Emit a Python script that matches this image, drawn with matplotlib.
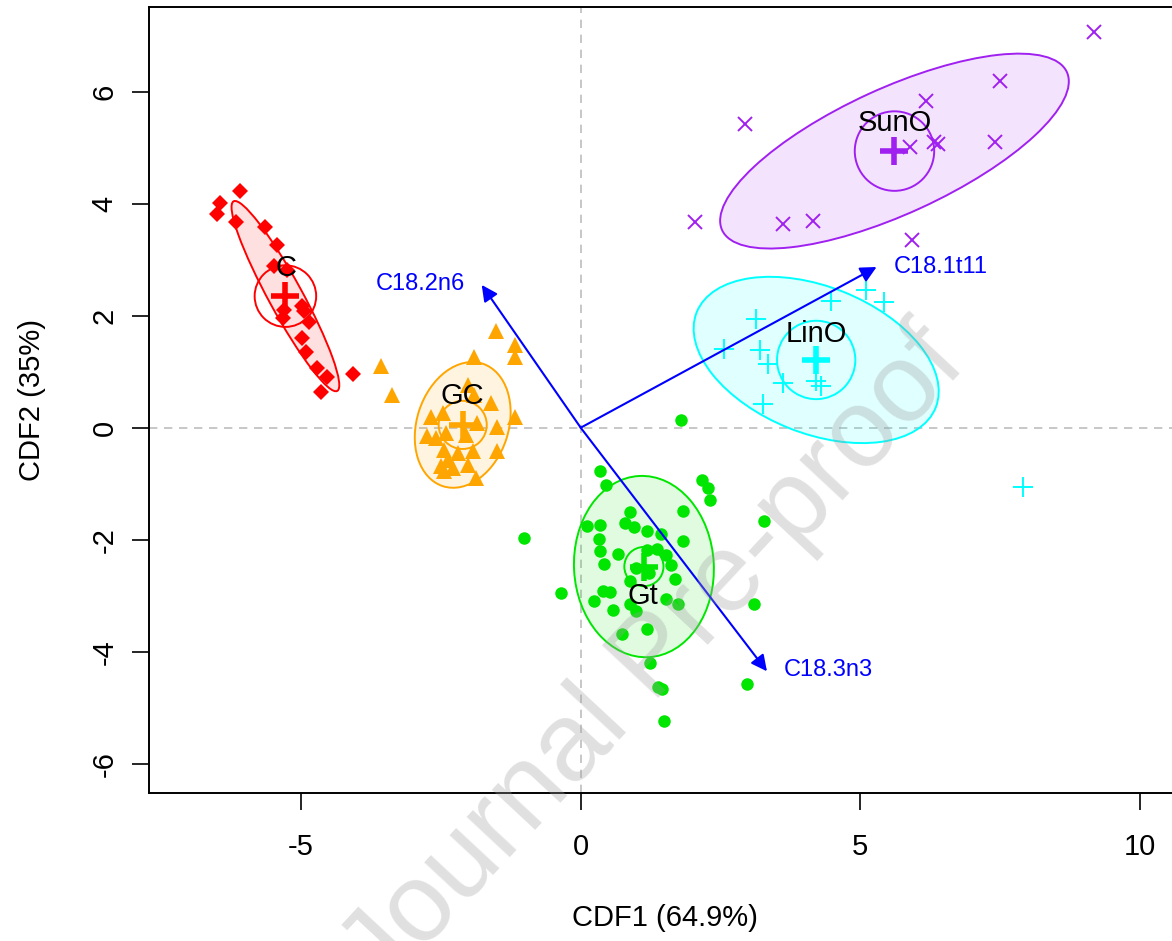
import matplotlib
matplotlib.use("Agg")
import matplotlib.pyplot as plt
from matplotlib.patches import Ellipse, Circle

plt.rcParams['font.family'] = ['Liberation Sans', 'DejaVu Sans']
plt.rcParams['axes.unicode_minus'] = False

# discriminant scores per group
c_x = [-6.10, -6.45, -6.50, -6.16, -5.64, -5.43, -5.49, -5.25, -5.30, -5.33,
       -4.99, -4.94, -4.86, -4.99, -4.91, -4.71, -4.54, -4.65, -4.08]
c_y = [4.22, 4.01, 3.82, 3.67, 3.58, 3.27, 2.88, 2.82, 2.11, 1.96,
       2.17, 2.08, 1.88, 1.60, 1.35, 1.07, 0.91, 0.63, 0.96]

gc_x = [-1.52, -3.57, -3.38, -1.90, -1.18, -1.18, -2.02, -1.90, -1.61, -1.18,
        -1.49, -2.68, -2.47, -1.85, -2.74, -2.59, -2.41, -2.05, -1.49, -2.44,
        -2.20, -1.93, -2.38, -2.50, -2.29, -2.02, -1.88, -2.44]
gc_y = [1.72, 1.11, 0.59, 1.27, 1.48, 1.27, 0.77, 0.59, 0.44, 0.20,
        0.02, 0.20, 0.26, 0.08, -0.15, -0.18, -0.10, -0.13, -0.42, -0.39,
        -0.45, -0.42, -0.57, -0.69, -0.72, -0.66, -0.90, -0.78]

gt_x = [1.79, 0.35, 0.46, 2.17, 2.27, 2.31, 1.82, 3.27, -1.02, 0.11,
        0.34, 0.88, 0.80, 0.96, 1.18, 1.43, 1.83, 0.32, 0.35, 0.67,
        1.19, 1.37, 1.52, 1.61, 0.41, 1.22, 0.89, 1.68, 0.98, -0.36,
        0.39, 0.52, 0.23, 0.88, 0.99, 0.58, 1.53, 1.74, 3.10, 1.19,
        0.73, 1.23, 1.38, 1.45, 2.98, 1.49]
gt_y = [0.13, -0.78, -1.02, -0.93, -1.08, -1.29, -1.48, -1.67, -1.97, -1.76,
        -1.74, -1.51, -1.70, -1.77, -1.84, -1.89, -2.03, -1.99, -2.21, -2.25,
        -2.18, -2.17, -2.27, -2.46, -2.43, -2.60, -2.73, -2.71, -2.50, -2.96,
        -2.91, -2.94, -3.10, -3.14, -3.27, -3.25, -3.06, -3.15, -3.15, -3.59,
        -3.68, -4.20, -4.63, -4.66, -4.58, -5.24]

lin_x = [5.10, 5.42, 4.48, 3.14, 2.56, 3.20, 3.35, 3.62, 3.26, 4.20, 4.30, 7.91]
lin_y = [2.46, 2.24, 2.27, 1.94, 1.41, 1.38, 1.13, 0.80, 0.43, 0.83, 0.75, -1.05]

sun_x = [9.17, 7.49, 6.18, 2.93, 5.88, 6.31, 6.38, 7.40, 2.05, 3.61, 4.15, 5.93]
sun_y = [7.07, 6.20, 5.83, 5.43, 5.02, 5.11, 5.07, 5.11, 3.68, 3.63, 3.70, 3.36]

groups = ['C', 'GC', 'Gt', 'LinO', 'SunO']
colors = ['#ff0000', '#ffa500', '#00e600', '#00ffff', '#a020f0']
markers = ['D', '^', 'o', '+', 'x']
msizes = [8, 11, 9, 14, 10]

# group centroids, label spots, ellipse (a, b, angle) and mean circle radius
cent_x = [-5.28, -2.11, 1.13, 4.21, 5.61]
cent_y = [2.35, 0.05, -2.48, 1.21, 4.94]
lab_x = [-5.27, -2.12, 1.11, 4.21, 5.61]
lab_y = [2.86, 0.57, -3.0, 1.68, 5.45]
ell_a = [1.93, 1.15, 1.62, 2.30, 3.39]
ell_b = [0.30, 0.82, 1.25, 1.31, 1.12]
ell_ang = [-61.3, 72, 93, -21.7, 24.6]
circ_r = [0.55, 0.43, 0.35, 0.70, 0.71]

# loadings arrows
var_names = ['C18.2n6', 'C18.1t11', 'C18.3n3']
var_x = [-1.77, 5.29, 3.33]
var_y = [2.55, 2.87, -4.35]
var_lx = [-2.86, 6.43, 4.43]
var_ly = [2.57, 2.87, -4.32]

fig = plt.figure(figsize=(11.72, 9.41), dpi=100)
ax = fig.add_axes([149/1172, 1-792.7/941, (1181-149)/1172, (792.7-7)/941])

ax.axhline(0, color='#bebebe', ls=(0, (5, 4)), lw=1.2, zorder=1)
ax.axvline(0, color='#bebebe', ls=(0, (5, 4)), lw=1.2, zorder=1)

xs = [c_x, gc_x, gt_x, lin_x, sun_x]
ys = [c_y, gc_y, gt_y, lin_y, sun_y]

for i in range(len(groups)):
    col = colors[i]
    e = Ellipse((cent_x[i], cent_y[i]), 2*ell_a[i], 2*ell_b[i], angle=ell_ang[i],
                facecolor=col, alpha=0.12, edgecolor='none', zorder=2)
    ax.add_patch(e)
    e2 = Ellipse((cent_x[i], cent_y[i]), 2*ell_a[i], 2*ell_b[i], angle=ell_ang[i],
                 facecolor='none', edgecolor=col, lw=1.4, zorder=3)
    ax.add_patch(e2)
    ax.add_patch(Circle((cent_x[i], cent_y[i]), circ_r[i], facecolor='none',
                        edgecolor=col, lw=1.4, zorder=3))
    if markers[i] in ['+', 'x']:
        ax.plot(xs[i], ys[i], ls='none', marker=markers[i], ms=msizes[i],
                mew=1.4, color=col, zorder=4)
    else:
        ax.plot(xs[i], ys[i], ls='none', marker=markers[i], ms=msizes[i],
                mew=0, color=col, zorder=4)
    ax.plot(cent_x[i], cent_y[i], marker='+', ms=20, mew=4, color=col, zorder=5)
    ax.text(lab_x[i], lab_y[i], groups[i], fontsize=21, ha='center', va='center',
            zorder=6)

for i in range(len(var_names)):
    ax.annotate('', xy=(var_x[i], var_y[i]), xytext=(0, 0),
                arrowprops=dict(arrowstyle='-|>', color='#0000ff', lw=1.5,
                                mutation_scale=24, shrinkA=0, shrinkB=0),
                zorder=6)
    ax.text(var_lx[i], var_ly[i], var_names[i], color='#0000ff', fontsize=17,
            ha='center', va='center', zorder=6)

ax.set_xlim(-7.719, 10.733)
ax.set_ylim(-6.518, 7.513)
ax.set_xticks([-5, 0, 5, 10])
ax.set_yticks([-6, -4, -2, 0, 2, 4, 6])
ax.tick_params(direction='out', length=12, width=1.2, labelsize=21)
ax.tick_params(axis='x', pad=17)
ax.tick_params(axis='y', pad=10)
plt.setp(ax.get_yticklabels(), rotation=90, va='center')
for s in ['left', 'bottom', 'top', 'right']:
    ax.spines[s].set_linewidth(1.4)

ax.set_xlabel('CDF1 (64.9%)', fontsize=21, labelpad=31)
ax.set_ylabel('CDF2 (35%)', fontsize=21, labelpad=32)

# watermark of the source pdf
fig.text(655/1172, 1-660/941, 'Journal Pre-proof', fontsize=80, color='#a0a0a0',
         alpha=0.32, rotation=47, ha='center', va='center', rotation_mode='anchor')

fig.savefig('out.png', dpi=100)
